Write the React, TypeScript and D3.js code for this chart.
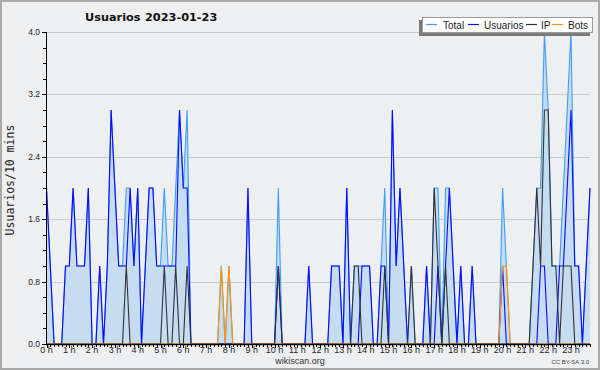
import React from 'react';
import * as d3 from 'd3';

// ---- data (10-minute buckets, 0h00 .. 23h50) ----
const total = [
  2,1,0,0,0,1,1,2,1,1,1,2,
  0,0,1,0,1,3,2,1,1,2,2,1,
  2,0,1,2,2,1,1,2,1,1,2,3,
  2,3,0,0,0,0,0,0,0,0,1,0,
  1,0,0,0,0,2,0,0,0,0,0,0,
  0,2,0,0,0,0,0,0,0,1,0,0,
  0,0,0,1,1,1,0,2,0,1,1,1,
  1,1,0,0,1,2,0,3,1,2,1,0,
  1,0,0,0,1,0,2,2,0,2,2,1,
  0,1,0,0,1,0,0,0,0,0,0,0,
  2,1,0,0,0,0,0,0,1,2,2,4,
  3,1,1,1,2,3,4,1,1,0,1,2,
];
const usuarios = [
  2,1,0,0,0,1,1,2,1,1,1,2,
  0,0,1,0,1,3,2,1,1,1,2,1,
  2,0,1,2,2,1,1,1,1,1,1,3,
  2,2,0,0,0,0,0,0,0,0,0,0,
  0,0,0,0,0,2,0,0,0,0,0,0,
  0,1,0,0,0,0,0,0,0,1,0,0,
  0,0,0,1,1,1,0,2,0,0,0,1,
  1,1,0,0,1,1,0,3,1,2,1,0,
  0,0,0,0,1,0,0,1,0,1,2,1,
  0,1,0,0,1,0,0,0,0,0,0,0,
  1,0,0,0,0,0,0,0,0,0,1,1,
  0,0,0,1,1,2,3,1,1,0,1,2,
];
const ip = [
  0,0,0,0,0,0,0,0,0,0,0,0,
  0,0,0,0,0,0,0,0,0,1,0,0,
  0,0,0,0,0,0,0,1,0,0,1,0,
  0,1,0,0,0,0,0,0,0,0,0,0,
  0,0,0,0,0,0,0,0,0,0,0,0,
  0,1,0,0,0,0,0,0,0,0,0,0,
  0,0,0,0,0,0,0,0,0,1,1,0,
  0,0,0,0,0,1,0,0,0,0,0,0,
  1,0,0,0,0,0,2,1,0,1,0,0,
  0,0,0,0,0,0,0,0,0,0,0,0,
  0,0,0,0,0,0,0,0,1,2,1,3,
  3,1,1,0,1,1,1,0,0,0,0,0,
];
const bots = [
  0,0,0,0,0,0,0,0,0,0,0,0,
  0,0,0,0,0,0,0,0,0,0,0,0,
  0,0,0,0,0,0,0,0,0,0,0,0,
  0,0,0,0,0,0,0,0,0,0,1,0,
  1,0,0,0,0,0,0,0,0,0,0,0,
  0,0,0,0,0,0,0,0,0,0,0,0,
  0,0,0,0,0,0,0,0,0,0,0,0,
  0,0,0,0,0,0,0,0,0,0,0,0,
  0,0,0,0,0,0,0,0,0,0,0,0,
  0,0,0,0,0,0,0,0,0,0,0,0,
  1,1,0,0,0,0,0,0,0,0,0,0,
  0,0,0,0,0,0,0,0,0,0,0,0,
];
const hourLabels = [
  '0 h','1 h','2 h','3 h','4 h','5 h','6 h','7 h','8 h','9 h','10 h','11 h',
  '12 h','13 h','14 h','15 h','16 h','17 h','18 h','19 h','20 h','21 h','22 h','23 h',
];
const yTickValues = [0, 0.8, 1.6, 2.4, 3.2, 4.0];
const yMinorTicks = [0.2, 0.4, 0.6, 1.0, 1.2, 1.4, 1.8, 2.0, 2.2, 2.6, 2.8, 3.0, 3.4, 3.6, 3.8];
const legendNames = ['Total', 'Usuarios', 'IP', 'Bots'];
const legendColors = ['#3d9df5', '#0a0aff', '#333333', '#ff9500'];
const titleText = 'Usuarios';
const dateText = '2023-01-23';

const FONT = "'Liberation Sans', Arial, sans-serif";
const TITLE_FONT = "'DejaVu Sans', Verdana, sans-serif";

export default function App() {
  const x = d3.scaleLinear().domain([0, total.length - 1]).range([46.5, 590]);
  const y = d3.scaleLinear().domain([0, 4]).range([344, 32]);
  const line = d3.line<number>().x((_, i) => x(i)).y((d) => y(d));
  const area = d3.area<number>().x((_, i) => x(i)).y0(y(0)).y1((d) => y(d));
  const series = [total, usuarios, ip, bots];

  const legendX = [426, 468, 526, 552];
  const legendTextX = [443, 484, 541, 568];

  return (
    <svg width={600} height={370} style={{ position: 'absolute', left: 0, top: 0, display: 'block' }}>
      <rect x={0} y={0} width={600} height={370} fill="#eeeff1" />
      <rect x={1} y={1} width={598} height={368} fill="none" stroke="#a9a9a9" strokeWidth={2} />

      {/* grid */}
      {yTickValues.filter((v) => v > 0).map((v) => (
        <line key={'g' + v} x1={46} x2={590} y1={Math.round(y(v)) + 0.5} y2={Math.round(y(v)) + 0.5} stroke="#cbcbcb" strokeWidth={1} />
      ))}

      {/* area + lines */}
      <path d={area(total) || ''} fill="#c5dcf1" />
      {series.map((s, k) => (
        <path key={'s' + k} d={line(s) || ''} fill="none" stroke={legendColors[k]} strokeWidth={1.1} />
      ))}

      {/* y axis */}
      <line x1={46.5} x2={46.5} y1={32} y2={344} stroke="#000" strokeWidth={1} />
      {yTickValues.map((v) => (
        <g key={'yt' + v}>
          <line x1={42} x2={46} y1={Math.round(y(v)) + 0.5} y2={Math.round(y(v)) + 0.5} stroke="#000" />
          <text x={40} y={y(v) + 3} textAnchor="end" fontFamily={FONT} fontSize={8.5} fill="#222">{v.toFixed(1)}</text>
        </g>
      ))}
      {yMinorTicks.map((v) => (
        <line key={'ym' + v} x1={43} x2={46} y1={Math.round(y(v)) + 0.5} y2={Math.round(y(v)) + 0.5} stroke="#000" />
      ))}

      {/* x axis */}
      <line x1={46} x2={590} y1={344.5} y2={344.5} stroke="#000" strokeWidth={1.5} />
      {total.map((_, i) => (
        <line key={'xt' + i} x1={Math.round(x(i)) + 0.5} x2={Math.round(x(i)) + 0.5} y1={344} y2={i % 6 === 0 ? 348 : 347} stroke="#000" />
      ))}
      {hourLabels.map((h, k) => (
        <text key={'xl' + k} x={x(k * 6)} y={353} textAnchor="middle" fontFamily={FONT} fontSize={9} fill="#222">{h}</text>
      ))}

      {/* titles */}
      <text x={85} y={21} fontFamily={TITLE_FONT} fontWeight="bold" fontSize={11.3} fill="#111">{titleText}</text>
      <text x={145} y={21} fontFamily={TITLE_FONT} fontWeight="bold" fontSize={11.3} fill="#111">{dateText}</text>
      <text transform="translate(14,180) rotate(-90)" textAnchor="middle" fontFamily="'DejaVu Sans Mono', monospace" fontSize={11.5} fill="#222">Usuarios/10 mins</text>
      <text x={300} y={364} textAnchor="middle" fontFamily={FONT} fontSize={9} fill="#333">wikiscan.org</text>
      <text x={589} y={364} textAnchor="end" fontFamily={FONT} fontSize={6} fill="#444">CC BY-SA 3.0</text>

      {/* legend */}
      <rect x={419} y={20} width={171} height={16} fill="#7a7a7a" />
      <rect x={422.5} y={17.5} width={170} height={15} fill="#ffffff" stroke="#9a9a9a" />
      {legendNames.map((n, k) => (
        <g key={'lg' + k}>
          <line x1={legendX[k]} x2={legendX[k] + 11} y1={24.5} y2={24.5} stroke={legendColors[k]} strokeWidth={1.2} />
          <text x={legendTextX[k]} y={28.5} fontFamily={FONT} fontSize={10} fill="#222">{n}</text>
        </g>
      ))}
    </svg>
  );
}
